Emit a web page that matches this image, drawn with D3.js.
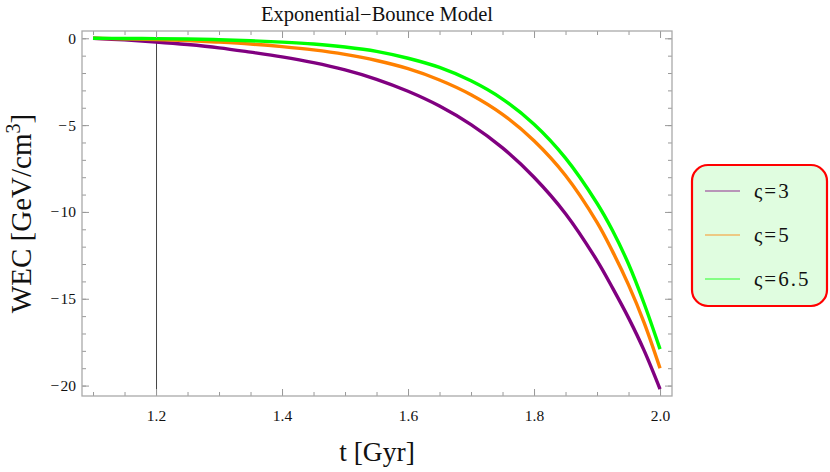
<!DOCTYPE html>
<html>
<head>
<meta charset="utf-8">
<script src="https://cdn.jsdelivr.net/npm/d3@7"></script>
<style>
  html, body { margin: 0; padding: 0; background: #fff; }
  svg { display: block; font-family: "Liberation Serif", "Times New Roman", serif; }
</style>
</head>
<body>
<svg id="chart" width="830" height="472"></svg>
<script>
// ── Data ───────────────────────────────────────────────────────────────────
const T = [1.10, 1.15, 1.20, 1.25, 1.30, 1.35, 1.40, 1.45, 1.50, 1.55,
           1.60, 1.65, 1.70, 1.75, 1.80, 1.85, 1.90, 1.925, 1.95, 1.975, 2.00];
const WEC_3   = [0, -0.09, -0.21, -0.36, -0.55, -0.80, -1.07, -1.40, -1.82, -2.36,
                 -3.05, -3.90, -4.97, -6.31, -8.00, -10.1, -12.8, -14.4, -16.1, -18.0, -20.2];
const WEC_5   = [0, -0.03, -0.07, -0.13, -0.22, -0.33, -0.48, -0.67, -0.93, -1.28,
                 -1.75, -2.40, -3.25, -4.38, -5.90, -7.90, -10.6, -12.3, -14.2, -16.4, -19.0];
const WEC_6_5 = [0, -0.01, -0.02, -0.04, -0.08, -0.14, -0.22, -0.33, -0.50, -0.75,
                 -1.15, -1.68, -2.45, -3.50, -4.95, -6.90, -9.50, -11.1, -13.0, -15.3, -17.9];
const SERIES_LABELS = ['ς=3', 'ς=5', 'ς=6.5'];
const SERIES_COLORS = ['#800080', '#ff8000', '#00ff00'];
const X_MAJOR = [1.2, 1.4, 1.6, 1.8, 2.0];
const Y_MAJOR = [0, -5, -10, -15, -20];
const MARK_T = 1.2;   // vertical reference line

const svg = d3.select('#chart');

// plot frame
const L = 82, R = 672, TOP = 31, BOT = 396;

const x = d3.scaleLinear().domain([1.0825, 2.019]).range([L, R]);
const y = d3.scaleLinear().domain([0.42, -20.6]).range([TOP, BOT]);

const xMinor = d3.range(1.1, 2.001, 0.05).map(v => +v.toFixed(2));
const yMinor = d3.range(0, -20.01, -1);

const fmtY = d => d < 0 ? '\u2212\u200A' + Math.abs(d) : String(d);

// ── Clip ────────────────────────────────────────────────────────────────────
svg.append('defs').append('clipPath').attr('id', 'plot-clip')
  .append('rect').attr('x', L).attr('y', TOP).attr('width', R - L).attr('height', BOT - TOP);

// ── Vertical marker ─────────────────────────────────────────────────────────
svg.append('line')
  .attr('x1', x(MARK_T) + 0.5).attr('x2', x(MARK_T) + 0.5)
  .attr('y1', TOP).attr('y2', BOT)
  .attr('stroke', '#444').attr('stroke-width', 1);

// ── Curves ──────────────────────────────────────────────────────────────────
const series = [WEC_3, WEC_5, WEC_6_5];
const line = d3.line()
  .x((d, i) => x(T[i]))
  .y(d => y(d))
  .curve(d3.curveCatmullRom.alpha(0.5));

const curveG = svg.append('g').attr('clip-path', 'url(#plot-clip)');
series.forEach((vals, k) => {
  curveG.append('path')
    .datum(vals)
    .attr('fill', 'none')
    .attr('stroke', SERIES_COLORS[k])
    .attr('stroke-width', 3.4)
    .attr('d', line);
});

// ── Axes (frame with inward ticks) ──────────────────────────────────────────
function styleAxis(g) {
  g.select('.domain').remove();
  g.selectAll('line').attr('stroke', '#999').attr('stroke-width', 1);
  g.selectAll('text')
    .attr('fill', '#111')
    .attr('font-size', '15.5px')
    .attr('font-family', '"Liberation Serif", "Times New Roman", serif');
}

// bottom
svg.append('g').attr('transform', `translate(0,${BOT})`)
  .call(d3.axisBottom(x).tickValues(xMinor).tickSize(-4).tickFormat(''))
  .call(styleAxis);
svg.append('g').attr('transform', `translate(0,${BOT})`)
  .call(d3.axisBottom(x).tickValues(X_MAJOR).tickSize(-7).tickPadding(14).tickFormat(d3.format('.1f')))
  .call(styleAxis);
// top
svg.append('g').attr('transform', `translate(0,${TOP})`)
  .call(d3.axisTop(x).tickValues(xMinor).tickSize(-4).tickFormat(''))
  .call(styleAxis);
svg.append('g').attr('transform', `translate(0,${TOP})`)
  .call(d3.axisTop(x).tickValues(X_MAJOR).tickSize(-7).tickFormat(''))
  .call(styleAxis);
// left
svg.append('g').attr('transform', `translate(${L},0)`)
  .call(d3.axisLeft(y).tickValues(yMinor).tickSize(-4).tickFormat(''))
  .call(styleAxis);
svg.append('g').attr('transform', `translate(${L},0)`)
  .call(d3.axisLeft(y).tickValues(Y_MAJOR).tickSize(-7).tickPadding(6).tickFormat(fmtY))
  .call(styleAxis);
// right
svg.append('g').attr('transform', `translate(${R},0)`)
  .call(d3.axisRight(y).tickValues(yMinor).tickSize(-4).tickFormat(''))
  .call(styleAxis);
svg.append('g').attr('transform', `translate(${R},0)`)
  .call(d3.axisRight(y).tickValues(Y_MAJOR).tickSize(-7).tickFormat(''))
  .call(styleAxis);

// frame
svg.append('rect')
  .attr('x', L).attr('y', TOP).attr('width', R - L).attr('height', BOT - TOP)
  .attr('fill', 'none').attr('stroke', '#aaa').attr('stroke-width', 1.3);

// ── Titles ──────────────────────────────────────────────────────────────────
svg.append('text')
  .attr('x', (L + R) / 2).attr('y', 21)
  .attr('text-anchor', 'middle')
  .attr('font-size', '20.5px')
  .attr('fill', '#111')
  .text('Exponential\u2212Bounce Model');

svg.append('text')
  .attr('x', (L + R) / 2).attr('y', 461)
  .attr('text-anchor', 'middle')
  .attr('font-size', '27.5px')
  .attr('fill', '#111')
  .text('t [Gyr]');

const yLab = svg.append('text')
  .attr('transform', `translate(31,${(TOP + BOT) / 2}) rotate(-90)`)
  .attr('text-anchor', 'middle')
  .attr('font-size', '29px')
  .attr('fill', '#111');
yLab.append('tspan').text('WEC [GeV/cm');
yLab.append('tspan').attr('dy', -11).attr('font-size', '20px').text('3');
yLab.append('tspan').attr('dy', 11).text(']');

// ── Legend ──────────────────────────────────────────────────────────────────
const leg = svg.append('g');
leg.append('rect')
  .attr('x', 692).attr('y', 165).attr('width', 135).attr('height', 141)
  .attr('rx', 16).attr('ry', 16)
  .attr('fill', '#e0fde0')
  .attr('stroke', '#ff0000').attr('stroke-width', 2.2);

SERIES_LABELS.forEach((lab, k) => {
  const cy = 191 + k * 44;
  leg.append('line')
    .attr('x1', 705).attr('x2', 740).attr('y1', cy).attr('y2', cy)
    .attr('stroke', SERIES_COLORS[k]).attr('stroke-opacity', 0.55).attr('stroke-width', 1.6);
  leg.append('text')
    .attr('x', 754).attr('y', cy + 7)
    .attr('font-size', '21px')
    .attr('letter-spacing', '2px')
    .attr('fill', '#111')
    .text(lab);
});
</script>
</body>
</html>
